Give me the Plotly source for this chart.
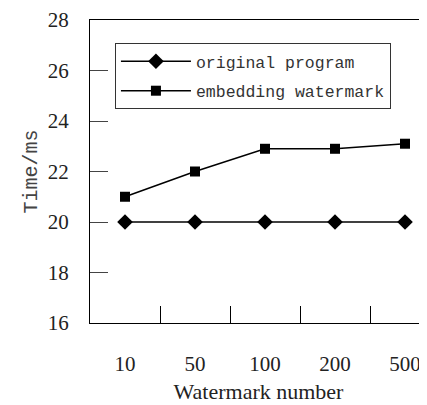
import plotly.graph_objects as go

categories = ["10", "50", "100", "200", "500"]
original_program = [20, 20, 20, 20, 20]
embedding_watermark = [21, 22, 22.9, 22.9, 23.1]
y_ticks = [16, 18, 20, 22, 24, 26, 28]

fig = go.Figure()
fig.add_trace(go.Scatter(
    x=categories, y=original_program, name="original program",
    mode="lines+markers", legendgroup="orig",
    line=dict(color="black", width=1.5),
    marker=dict(symbol="diamond", size=12, color="black"),
))
fig.add_trace(go.Scatter(
    x=categories, y=embedding_watermark, name="embedding watermark",
    mode="lines+markers", legendgroup="emb",
    line=dict(color="black", width=1.5),
    marker=dict(symbol="square", size=10, color="black"),
))

# page body has an 8px margin, so the figure is sized to fit the window
fig.update_layout(
    width=419, height=397,
    margin=dict(l=82, r=0, t=12, b=82),
    plot_bgcolor="white", paper_bgcolor="white",
    showlegend=True,
    legend=dict(
        x=0.074, y=0.924, xanchor="left", yanchor="top",
        bordercolor="#333", borderwidth=1, bgcolor="white",
        font=dict(family="Liberation Mono", size=16.5, color="#333"),
        tracegroupgap=5, itemwidth=70, entrywidth=200,
    ),
    xaxis=dict(
        type="category", range=[-0.5, 4.314], automargin=False,
        showline=True, linecolor="black", linewidth=1, mirror=True,
        ticks="inside", tickson="boundaries", ticklen=17, tickcolor="black",
        showgrid=False, zeroline=False,
        tickfont=dict(family="Liberation Serif", size=21, color="#222"),
        ticklabelstandoff=22,
        title=dict(text="Watermark number", standoff=8,
                   font=dict(family="Liberation Serif", size=22, color="#222")),
    ),
    yaxis=dict(
        range=[16, 28], tickvals=y_ticks, automargin=False,
        showline=True, linecolor="black", linewidth=1, mirror=False,
        ticks="inside", ticklen=18, tickcolor="#444",
        showgrid=False, zeroline=False,
        tickfont=dict(family="Liberation Serif", size=21, color="#222"),
        ticklabelstandoff=16,
        title=dict(text="Time/ms", standoff=4,
                   font=dict(family="Liberation Mono", size=20, color="#444")),
    ),
)

fig.write_html("out.html")
